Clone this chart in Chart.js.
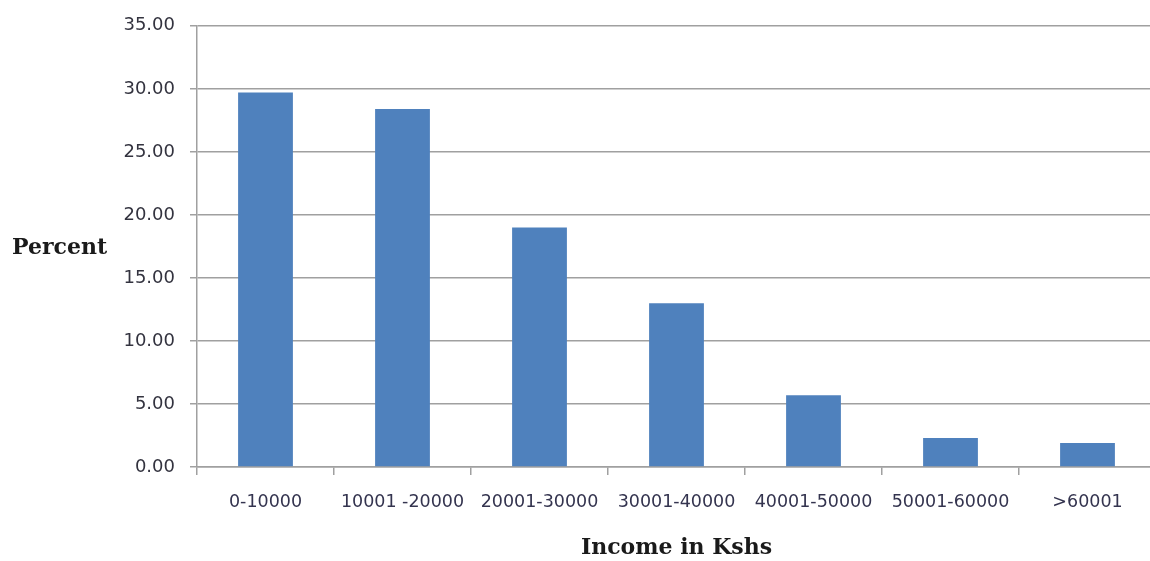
<!DOCTYPE html>
<html>
<head>
<meta charset="utf-8">
<script src="https://cdn.jsdelivr.net/npm/chart.js@4/dist/chart.umd.min.js"></script>
<style>
  html, body { margin: 0; padding: 0; background: #ffffff; overflow: hidden; }
  #wrap { position: relative; width: 1156px; height: 561px; }
</style>
</head>
<body>
<div id="wrap"><canvas id="c"></canvas></div>
<script>
const categories = ["0-10000", "10001 -20000", "20001-30000", "30001-40000", "40001-50000", "50001-60000", ">60001"];
const percentValues = [29.7, 28.4, 19.0, 13.0, 5.7, 2.3, 1.9];
const yAxisTitle = "Percent";
const xAxisTitle = "Income in Kshs";

const sideTitle = {
  id: 'sideTitle',
  afterDraw(chart) {
    const ctx = chart.ctx;
    ctx.save();
    ctx.font = 'bold 22px "DejaVu Serif"';
    ctx.fillStyle = '#1a1a1a';
    ctx.textAlign = 'left';
    ctx.textBaseline = 'alphabetic';
    ctx.fillText(yAxisTitle, 12, 254);
    ctx.restore();
  }
};

new Chart(document.getElementById('c'), {
  type: 'bar',
  data: {
    labels: categories,
    datasets: [{
      data: percentValues,
      backgroundColor: '#4f81bd',
      borderWidth: 0,
      barPercentage: 0.4,
      categoryPercentage: 1.0
    }]
  },
  options: {
    responsive: true,
    maintainAspectRatio: false,
    animation: false,
    devicePixelRatio: 1,
    layout: { padding: { left: 0, right: 0, top: 22, bottom: 0 } },
    plugins: { legend: { display: false }, tooltip: { enabled: false } },
    scales: {
      x: {
        offset: true,
        grid: { offset: true, drawOnChartArea: false, drawTicks: true, tickLength: 8, color: '#a0a0a0', lineWidth: 1.5 },
        border: { display: true, color: '#a0a0a0', width: 1.5 },
        ticks: { color: '#34344f', font: { family: '"DejaVu Sans"', size: 17.5 }, padding: 17, maxRotation: 0, autoSkip: false },
        title: { display: true, text: xAxisTitle, color: '#1a1a1a', font: { family: '"DejaVu Serif"', size: 22, weight: 'bold' }, padding: { top: 0, bottom: 0 } },
        afterFit(s) { s.height = 94; }
      },
      y: {
        min: 0, max: 35,
        ticks: { stepSize: 5, color: '#33333f', font: { family: '"DejaVu Sans"', size: 18 }, padding: 15, callback: v => Number(v).toFixed(2) },
        grid: { color: '#a0a0a0', lineWidth: 1.5, tickLength: 7 },
        border: { display: true, color: '#a0a0a0', width: 1.5 },
        afterFit(s) { s.width = 197; }
      }
    }
  },
  plugins: [sideTitle]
});
</script>
</body>
</html>
